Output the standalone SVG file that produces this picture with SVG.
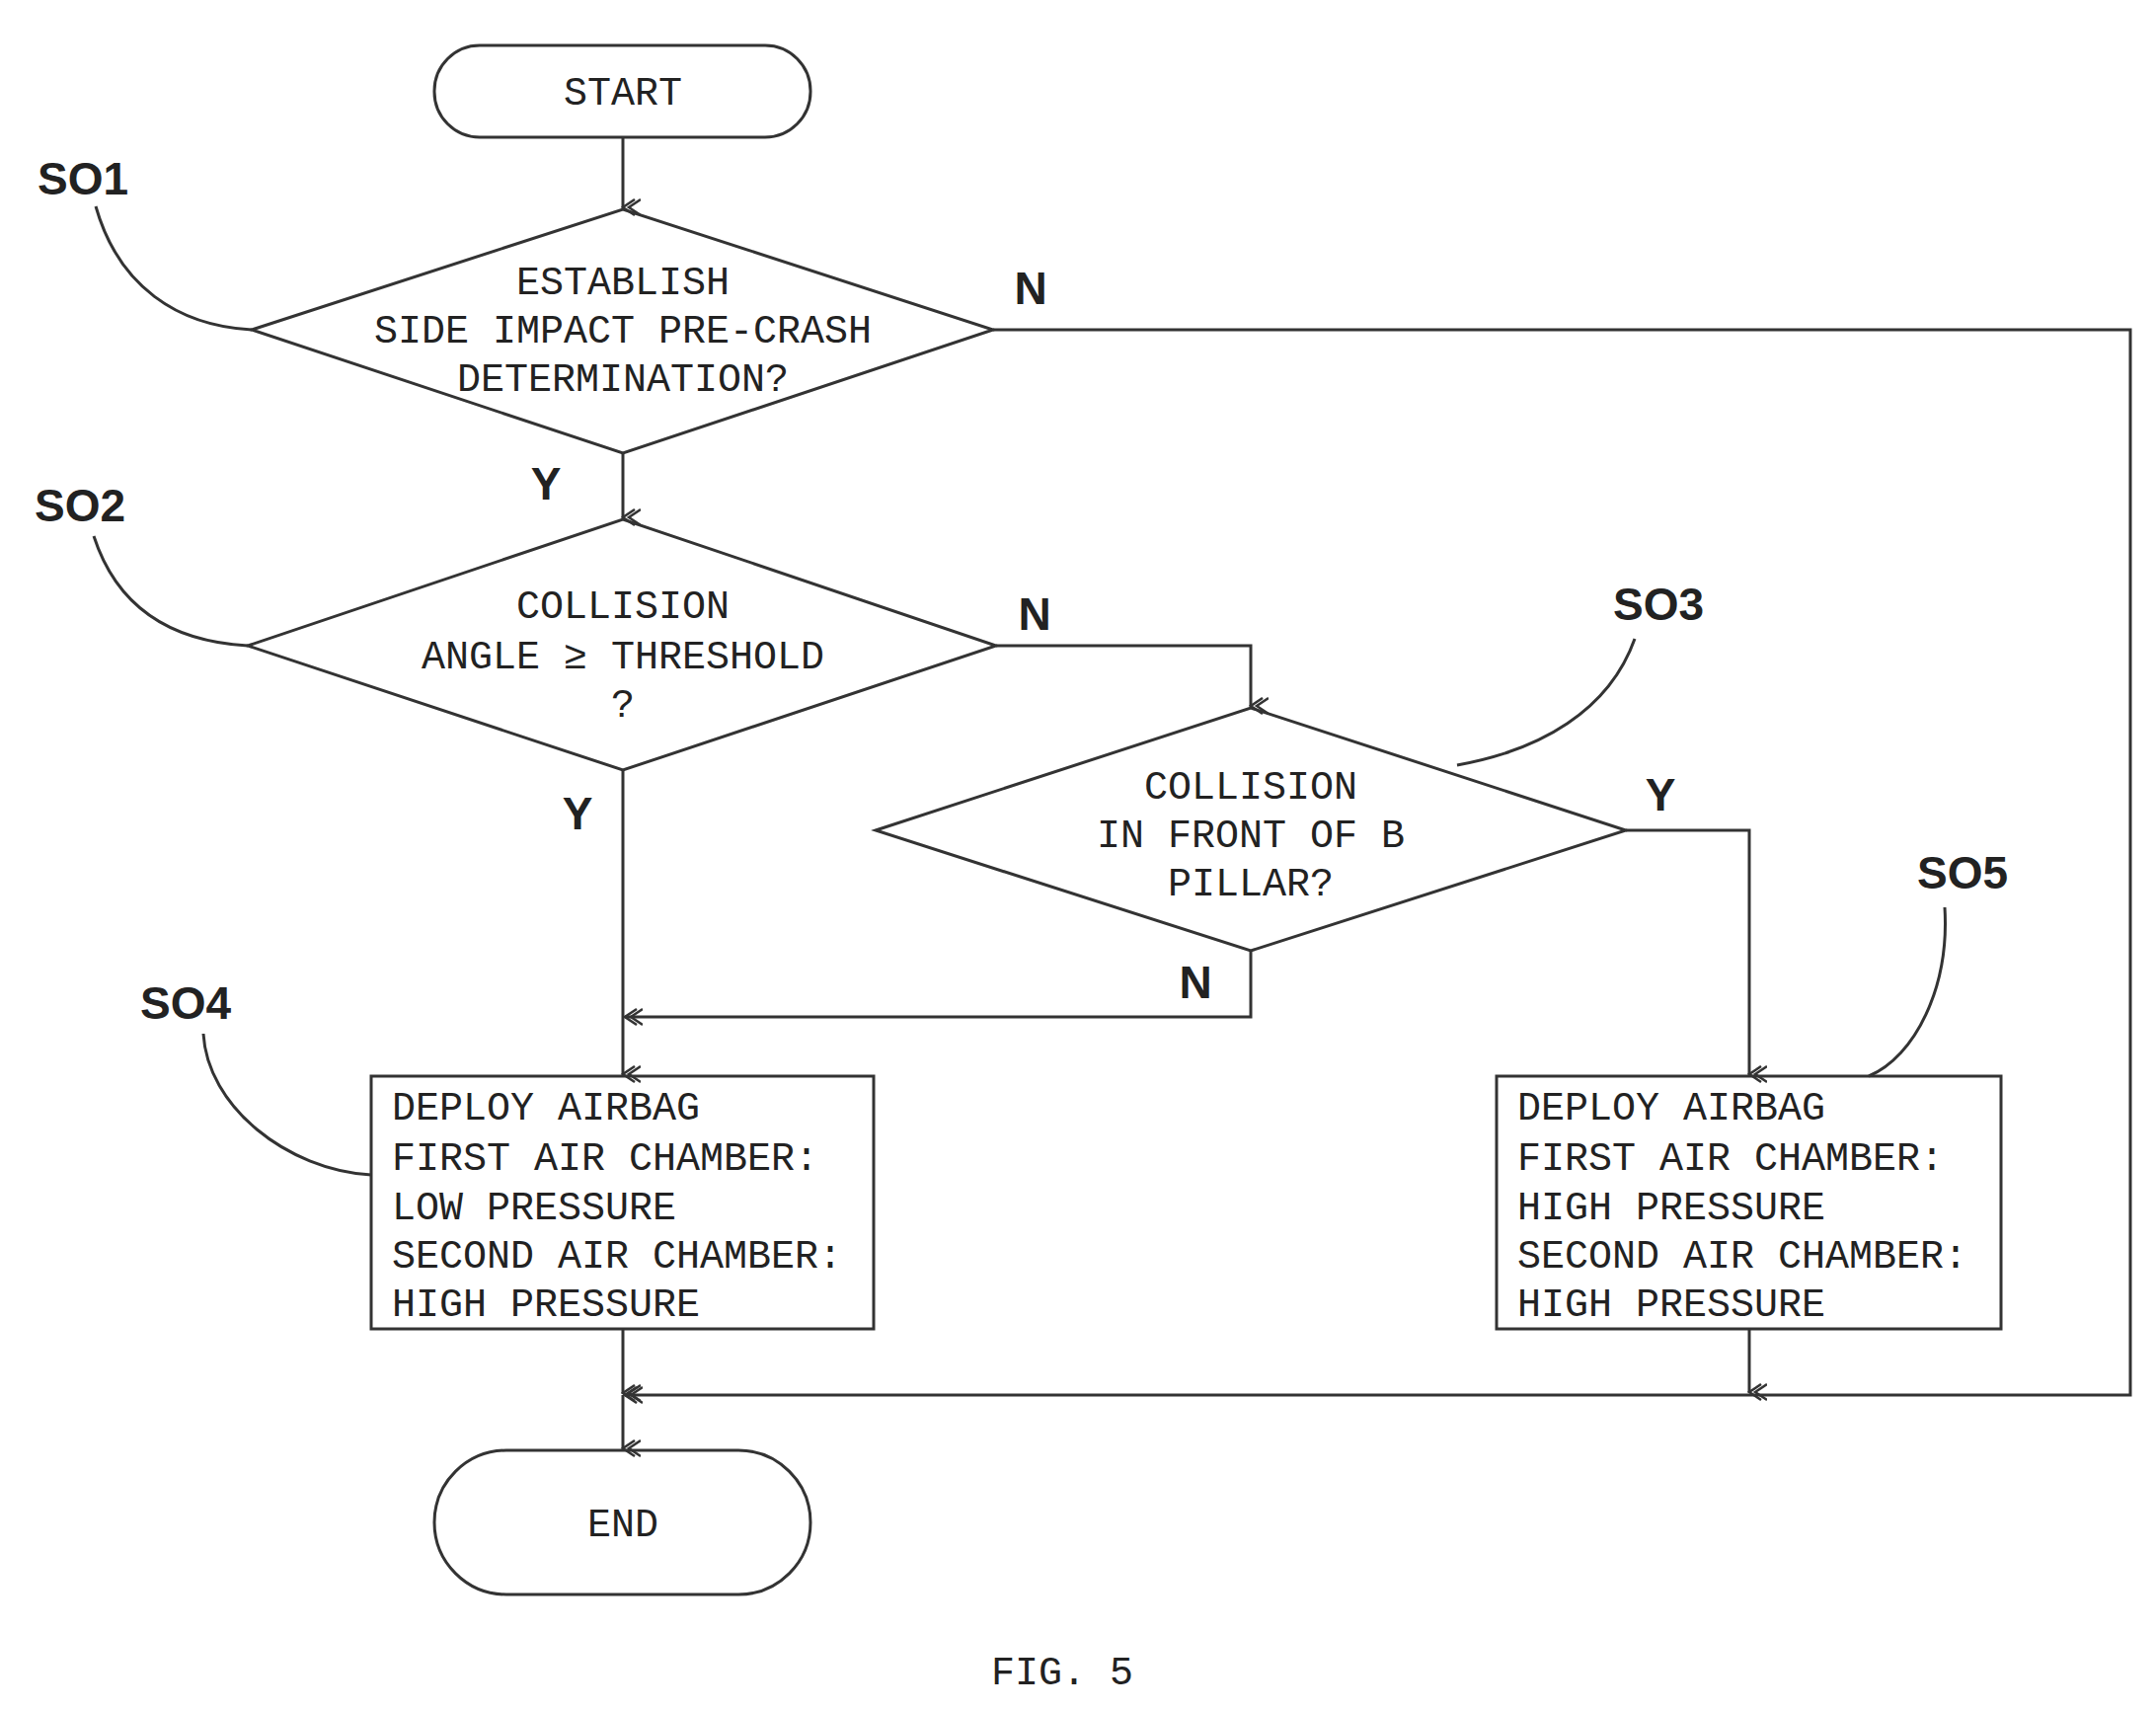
<svg xmlns="http://www.w3.org/2000/svg" width="2184" height="1731" viewBox="0 0 2184 1731">
<style>
.s{fill:none;stroke:#333;stroke-width:3}
.t{font-family:"Liberation Mono",monospace;font-size:40px;fill:#222}
.c{text-anchor:middle}
.l{font-family:"Liberation Sans",sans-serif;font-weight:bold;font-size:46px;fill:#222}
</style>
<defs><marker id="a" markerWidth="20" markerHeight="20" refX="9" refY="18" orient="auto" markerUnits="userSpaceOnUse"><path d="M1,6 L9,18 L17,6 M1,0 L9,12 L17,0" fill="none" stroke="#333" stroke-width="2.5"/></marker>
<marker id="h" markerWidth="20" markerHeight="20" refX="18" refY="9" orient="auto" markerUnits="userSpaceOnUse"><path d="M6,1 L18,9 L6,17 M0,1 L12,9 L0,17" fill="none" stroke="#333" stroke-width="2.5"/></marker></defs>
<rect width="2184" height="1731" fill="#fff"/>
<g id="connectors" class="s">
<path d="M631,139 V210" marker-end="url(#a)"/>
<path d="M631,459 V524" marker-end="url(#a)"/>
<path d="M1009,654 H1267 V715" marker-end="url(#a)"/>
<path d="M1647,841 H1772 V1088" marker-end="url(#a)"/>
<path d="M1267,963 V1030 H633" marker-end="url(#h)"/>
<path d="M631,780 V1088" marker-end="url(#a)"/>
<path d="M631,1346 V1411" marker-end="url(#a)"/>
<path d="M631,1413 V1467" marker-end="url(#a)"/>
<path d="M1772,1346 V1410" marker-end="url(#a)"/>
<path d="M1006,334 H2158 V1413 H633" marker-end="url(#h)"/>
<path d="M97,209 C120,290 180,330 255,334"/>
<path d="M95,543 C120,620 180,650 251,654"/>
<path d="M1656,647 C1630,720 1560,760 1476,775"/>
<path d="M206,1047 C210,1120 290,1185 376,1190"/>
<path d="M1970,919 C1975,1000 1940,1070 1893,1090"/>
</g>
<g id="start"><rect x="440" y="46" width="381" height="93" rx="46" class="s"/><text x="631" y="106" class="t c">START</text></g>
<g id="s01"><polygon points="255,334 631,212 1006,334 631,459" class="s"/><text x="631" y="298" class="t c">ESTABLISH</text><text x="631" y="347" class="t c">SIDE IMPACT PRE-CRASH</text><text x="631" y="396" class="t c">DETERMINATION?</text></g>
<g id="s02"><polygon points="251,654 631,526 1009,654 631,780" class="s"/><text x="631" y="626" class="t c">COLLISION</text><text x="631" y="677" class="t c">ANGLE ≥ THRESHOLD</text><text x="631" y="726" class="t c">?</text></g>
<g id="s03"><polygon points="887,841 1267,717 1647,841 1267,963" class="s"/><text x="1267" y="809" class="t c">COLLISION</text><text x="1267" y="858" class="t c">IN FRONT OF B</text><text x="1267" y="907" class="t c">PILLAR?</text></g>
<g id="s04"><rect x="376" y="1090" width="509" height="256" class="s"/>
<text x="397" y="1134" class="t">DEPLOY AIRBAG</text><text x="397" y="1185" class="t">FIRST AIR CHAMBER:</text><text x="397" y="1235" class="t">LOW PRESSURE</text><text x="397" y="1284" class="t">SECOND AIR CHAMBER:</text><text x="397" y="1333" class="t">HIGH PRESSURE</text></g>
<g id="s05"><rect x="1516" y="1090" width="511" height="256" class="s"/>
<text x="1537" y="1134" class="t">DEPLOY AIRBAG</text><text x="1537" y="1185" class="t">FIRST AIR CHAMBER:</text><text x="1537" y="1235" class="t">HIGH PRESSURE</text><text x="1537" y="1284" class="t">SECOND AIR CHAMBER:</text><text x="1537" y="1333" class="t">HIGH PRESSURE</text></g>
<g id="end"><rect x="440" y="1469" width="381" height="146" rx="73" class="s"/><text x="631" y="1556" class="t c">END</text></g>
<g id="labels">
<text x="1044" y="308" class="l c">N</text><text x="553" y="506" class="l c">Y</text>
<text x="1048" y="638" class="l c">N</text><text x="585" y="840" class="l c">Y</text>
<text x="1682" y="821" class="l c">Y</text><text x="1211" y="1011" class="l c">N</text>
<text x="84" y="197" class="l c">SO1</text><text x="81" y="528" class="l c">SO2</text>
<text x="1680" y="628" class="l c">SO3</text><text x="188" y="1032" class="l c">SO4</text>
<text x="1988" y="900" class="l c">SO5</text>
<text x="1076" y="1706" class="t c">FIG. 5</text>
</g>
</svg>
